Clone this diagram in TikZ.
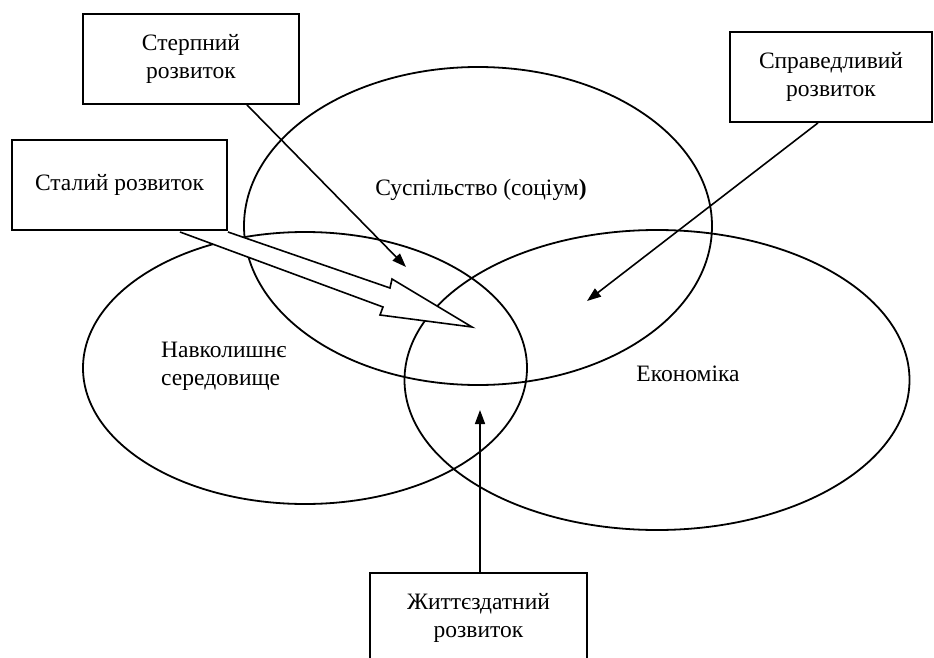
\documentclass[tikz,border=0pt]{standalone}
\usepackage{fontspec}
\setmainfont{Liberation Serif}
\usepackage{tikz}
\usetikzlibrary{shapes,arrows,positioning,arrows.meta,shapes.geometric}

\tikzset{
  box/.style={draw, line width=1.8pt, fill=white, align=center, inner sep=0pt, minimum height=90pt},
  area/.style={ellipse, draw, line width=1.8pt, inner sep=0pt},
  lbl/.style={align=left, inner sep=0pt},
  pointer/.style={line width=1.6pt, -{Triangle[length=14pt,width=10pt]}}
}

\begin{document}
\begin{tikzpicture}[x=1pt, y=-1pt, font=\fontsize{23.5}{28}\selectfont]

% Page frame
\clip (0,0) rectangle (934,658);
\fill[white] (0,0) rectangle (934,658);

% Three spheres
\node[area, minimum width=468pt, minimum height=318pt] (soc) at (478,226) {};
\node[area, minimum width=444pt, minimum height=272pt] (env) at (305,368) {};
\node[area, minimum width=505pt, minimum height=300pt] (econ) at (657,380) {};

% Sphere labels
\node[lbl] (soclbl) at (481,190) {Суспільство (соціум\textbf{)}};
\node[lbl, anchor=west] (envlbl) at (161,366) {Навколишнє\\середовище};
\node[lbl] (econlbl) at (688,374) {Економіка};

% Hollow arrow
\draw[line width=1.6pt, fill=white, line join=miter] (180,232) -- (383,307) -- (380,315) -- (472,327) -- (392,279) -- (390,288) -- (228,232);

% Boxes
\node[box, minimum width=216pt] (ster) at (191,59) {Стерпний\\розвиток};
\node[box, minimum width=215pt] (stal) at (119.5,185) {Сталий розвиток};
\node[box, minimum width=202pt] (sprav) at (831,77) {Справедливий\\розвиток};
\node[box, minimum width=217pt, minimum height=0pt, anchor=north, inner ysep=21pt, text depth=60pt] (zhytt) at (478.5,572) {Життєздатний\\розвиток};

% Pointers
\coordinate (stertip) at (406,267);
\coordinate (spravtip) at (587,301);
\coordinate (zhytttip) at (480,410);
\draw[pointer] ([xshift=56pt]ster.south) -- (stertip);
\draw[pointer] ([xshift=-13pt]sprav.south) -- (spravtip);
\draw[pointer] ([xshift=1.5pt]zhytt.north) -- (zhytttip);

\end{tikzpicture}
\end{document}
